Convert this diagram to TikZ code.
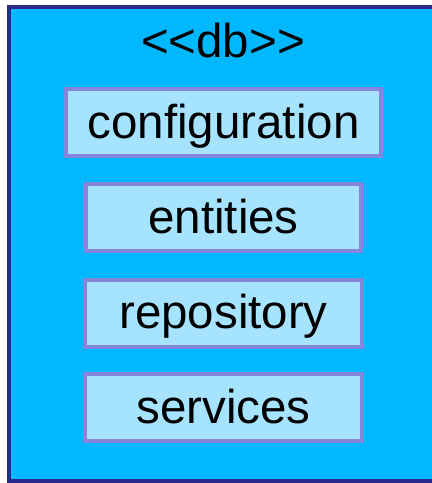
\documentclass[tikz,border=0pt]{standalone}
\usepackage{fontspec}
\setmainfont{Liberation Sans}
\definecolor{pkgfill}{HTML}{00B8FF}
\definecolor{pkgline}{HTML}{2A2A8C}
\definecolor{boxfill}{HTML}{A6E3FF}
\definecolor{boxline}{HTML}{8585DB}
\begin{document}
\begin{tikzpicture}[x=1pt,y=-1pt,
  pkg/.style={draw=pkgline,fill=pkgfill,line width=3.5pt},
  modbox/.style={draw=boxline,fill=boxfill,line width=4pt,
    minimum height=67pt,inner sep=0pt,
    font=\fontsize{47.5}{56}\selectfont,text height=37pt,text depth=6pt},
  stereo/.style={inner sep=0pt,anchor=base,font=\fontsize{47.5}{56}\selectfont}]
  \useasboundingbox (0,0) rectangle (432,483);
  % package frame (runs off the right edge)
  \path[pkg] (9,7) rectangle (450,481);
  \node[stereo] (title) at (223,57) {<\kern0pt<db>\kern0pt>};
  % sub-packages
  \node[modbox,minimum width=315pt] (configuration) at (223.5,122.5) {configuration};
  \node[modbox,minimum width=275pt] (entities) at (223.5,217.5) {entities};
  \node[modbox,minimum width=277pt] (repository) at (223.5,313) {repository};
  \node[modbox,minimum width=277pt] (services) at (223.5,407.5) {services};
\end{tikzpicture}
\end{document}
